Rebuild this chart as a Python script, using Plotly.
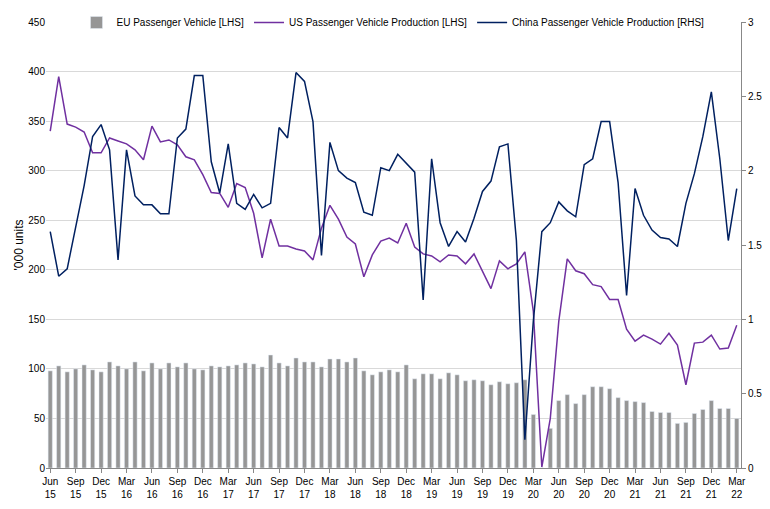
import plotly.graph_objects as go
import pandas as pd

months = pd.date_range('2015-06-01', '2022-03-01', freq='MS')

eu = [98, 103, 97, 100, 104, 99, 97, 107, 103, 100, 107, 98, 106, 100, 106, 102, 106, 100, 99, 103,
      102, 103, 104, 106, 105, 102, 114, 106, 103, 111, 107, 107, 102, 110, 110, 107, 111, 98, 94, 97,
      99, 97, 104, 90, 95, 95, 90, 96, 94, 88, 89, 88, 84, 87, 85, 86, 89, 54, 0, 40,
      68, 74, 65, 74, 82, 82, 80, 71, 68, 67, 66, 57, 56, 56, 45, 46, 55, 59, 68, 60, 60, 50]

us = [340, 395, 347, 344, 339, 318, 318, 333, 330, 327, 321, 311, 345, 329, 331, 326, 314, 311, 296, 278,
      277, 263, 287, 283, 257, 212, 251, 224, 224, 221, 219, 210, 242, 265, 251, 233, 226, 193, 215, 229,
      232, 227, 247, 223, 216, 214, 208, 215, 214, 206, 216, 199, 181, 209, 201, 206, 218, 158, 1, 50,
      148, 211, 199, 196, 185, 183, 170, 170, 140, 128, 134, 130, 125, 136, 124, 84, 126, 127, 134, 120, 121, 144]

china = [1.59, 1.29, 1.34, 1.61, 1.90, 2.23, 2.31, 2.14, 1.40, 2.14, 1.83, 1.77, 1.77, 1.71, 1.71, 2.22, 2.28, 2.64, 2.64, 2.06,
         1.85, 2.18, 1.78, 1.74, 1.84, 1.75, 1.78, 2.29, 2.22, 2.66, 2.60, 2.33, 1.43, 2.19, 2.00, 1.95, 1.92, 1.72, 1.70, 2.02,
         2.00, 2.11, 2.05, 1.99, 1.13, 2.08, 1.65, 1.49, 1.59, 1.52, 1.68, 1.86, 1.93, 2.16, 2.18, 1.53, 0.19, 0.99, 1.59, 1.65,
         1.79, 1.73, 1.69, 2.04, 2.08, 2.33, 2.33, 1.92, 1.16, 1.88, 1.70, 1.60, 1.55, 1.54, 1.49, 1.78, 1.98, 2.23, 2.53, 2.08, 1.53, 1.88]

idx = list(range(len(months)))
tick_idx = idx[::3]
tick_text = [m.strftime('%b<br>%y') for m in months[::3]]

fnt = dict(family='Liberation Sans, Arial', size=10, color='black')

fig = go.Figure()
fig.add_trace(go.Bar(x=idx, y=eu, name='EU Passenger Vehicle [LHS]', marker_color='#969696', width=0.5))
fig.add_trace(go.Scatter(x=idx, y=us, name='US Passenger Vehicle Production [LHS]', mode='lines',
                         line=dict(color='#7030A0', width=1.5)))
fig.add_trace(go.Scatter(x=idx, y=china, name='China Passenger Vehicle Production [RHS]', mode='lines',
                         line=dict(color='#002060', width=1.5), yaxis='y2'))

fig.update_layout(
    width=770, height=509,
    margin=dict(l=38, r=37, t=14, b=49, autoexpand=False),
    plot_bgcolor='white', paper_bgcolor='white',
    font=fnt,
    showlegend=True,
    legend=dict(orientation='h', x=0.5, xanchor='center', y=1.0, yanchor='top', yref='container',
                xref='container', font=dict(size=10), tracegroupgap=0, itemwidth=30,
                bgcolor='rgba(255,255,255,0)'),
    xaxis=dict(tickvals=tick_idx, ticktext=tick_text, range=[-0.5, len(idx) - 0.5],
               showgrid=False, showline=True, linecolor='#888', ticks='outside',
               ticklen=4, tickcolor='#888', tickangle=0, automargin=False),
    yaxis=dict(range=[0, 450], dtick=50, showgrid=True, gridcolor='#d9d9d9',
               title=dict(text="'000 units", standoff=2), zeroline=False, automargin=False),
    yaxis2=dict(range=[0, 3], dtick=0.5, overlaying='y', side='right', showgrid=False,
                showline=True, linecolor='#888', ticks='outside', ticklen=4, tickcolor='#888',
                title=dict(text='Million Units', standoff=2), tickformat='.3~f', automargin=False),
    annotations=[dict(text='Source: Bureau of Economic Analysis, CAIN, Eurostat', xref='paper', yref='paper',
                      x=-0.053, y=-0.1, xanchor='left', yanchor='top', showarrow=False,
                      font=dict(size=10))],
)

fig.write_html('out.html')
